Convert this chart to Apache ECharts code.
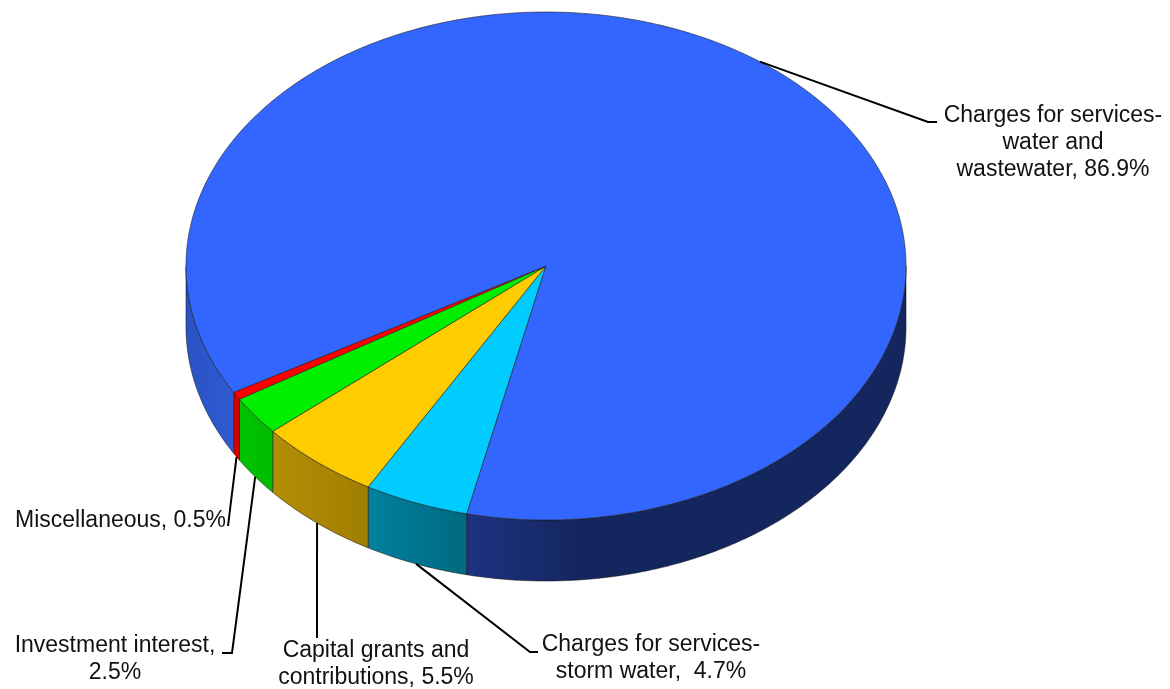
<!DOCTYPE html>
<html>
<head>
<meta charset="utf-8">
<style>html,body{margin:0;padding:0;background:#fff}#c{width:1170px;height:689px}</style>
<script src="https://cdn.jsdelivr.net/npm/echarts@6/dist/echarts.min.js"></script>
</head>
<body>
<div id="c"></div>
<script>
// Data, in drawing order (going clockwise on screen from the lower front edge)
var categories = ['Charges for services-storm water', 'Capital grants and contributions', 'Investment interest', 'Miscellaneous', 'Charges for services-water and wastewater'];
var shares = [4.7, 5.5, 2.5, 0.5, 86.9];
var labelLines = [
  ['Charges for services-', 'storm water,  4.7%'],
  ['Capital grants and', 'contributions, 5.5%'],
  ['Investment interest,', '2.5%'],
  ['Miscellaneous, 0.5%'],
  ['Charges for services-', 'water and', 'wastewater, 86.9%']
];
var faceColors = ['#00ccff', '#ffcc00', '#00ee00', '#ff0000', '#3366ff'];

// Style and layout
var wallStops = [
  [['#00809f', '#006a80']],
  [['#b48e08', '#a07e00']],
  [['#00c400', '#00bc00']],
  [['#e00000', '#d00000']],
  [['#2a52c4', '#2f5bd2'], ['#1d3382', '#14265e']]
];
var pie = {cx: 546, cy: 266, rx: 360, ry: 254, depth: 61, start: 12.7};
var labelLayout = [
  {x: 651, y: [645, 672], align: 'center', path: [[530, 652], [538, 652]]},
  {x: 376, y: [651, 678], align: 'center', path: [[317, 638]]},
  {x: 115, y: [646, 673], align: 'center', path: [[232, 653], [222, 653]]},
  {x: 226, y: [521], align: 'right', path: [[228, 526]]},
  {x: 1053, y: [116, 143, 170], align: 'center', path: [[928, 122], [937, 122]]}
];

var total = shares.reduce(function (a, b) { return a + b; }, 0);
var startAngles = [];
shares.reduce(function (acc, v, i) { startAngles[i] = acc; return acc + v / total * 360; }, pie.start);

function pt(deg, dy) {
  var r = deg * Math.PI / 180;
  return [pie.cx - pie.rx * Math.sin(r), pie.cy + pie.ry * Math.cos(r) + (dy || 0)];
}
function arc(a, b, dy) {
  var n = Math.max(2, Math.ceil(Math.abs(b - a) * 2)), out = [];
  for (var k = 0; k <= n; k++) out.push(pt(a + (b - a) * k / n, dy));
  return out;
}
function angleRange(api) {
  var i = api.value(0), a = startAngles[i];
  return [a, a + api.value(1) / total * 360];
}

function renderWall(params, api) {
  var i = api.value(0), rg = angleRange(api), a = rg[0], b = rg[1], kids = [];
  [[-90, 90], [270, 450]].forEach(function (win) {
    var lo = Math.max(a, win[0]), hi = Math.min(b, win[1]);
    if (hi <= lo) return;
    var stops = wallStops[i][win[0] === 270 && wallStops[i][1] ? 1 : 0];
    var poly = arc(lo, hi, 0).concat(arc(hi, lo, pie.depth));
    kids.push({
      type: 'polygon', shape: {points: poly},
      style: {
        fill: {type: 'linear', x: 0, y: 0, x2: 1, y2: 0, colorStops: [
          {offset: 0, color: stops[0]}, {offset: win[0] === 270 ? 0.25 : 1, color: stops[1]}, {offset: 1, color: stops[1]}
        ]},
        stroke: 'rgba(20,20,20,0.6)', lineWidth: 0.9
      }
    });
  });
  return {type: 'group', children: kids};
}

function renderFace(params, api) {
  var i = api.value(0), rg = angleRange(api);
  var poly = [[pie.cx, pie.cy]].concat(arc(rg[0], rg[1], 0));
  return {
    type: 'polygon', shape: {points: poly},
    style: {fill: faceColors[i], stroke: 'rgba(30,30,30,0.65)', lineWidth: 0.9}
  };
}

function renderLabel(params, api) {
  var i = api.value(0), rg = angleRange(api), mid = (rg[0] + rg[1]) / 2;
  var front = Math.cos(mid * Math.PI / 180) > 0;
  var lay = labelLayout[i];
  var kids = [{
    type: 'polyline',
    shape: {points: [pt(mid, front ? pie.depth : 0)].concat(lay.path)},
    style: {fill: null, stroke: '#000', lineWidth: 2}
  }];
  labelLines[i].forEach(function (line, k) {
    kids.push({
      type: 'text',
      style: {
        text: line, x: lay.x, y: lay.y[k], align: lay.align, verticalAlign: 'middle',
        font: '23px "Liberation Sans", Arial, sans-serif', fill: '#111'
      }
    });
  });
  return {type: 'group', children: kids};
}

var rows = shares.map(function (v, i) { return {name: categories[i], value: [i, v]}; });
var chart = echarts.init(document.getElementById('c'), null, {renderer: 'canvas'});
chart.setOption({
  animation: false,
  backgroundColor: '#fff',
  tooltip: {show: false},
  series: [
    {type: 'custom', coordinateSystem: 'none', renderItem: renderWall, data: rows, z: 1, silent: true},
    {type: 'custom', coordinateSystem: 'none', renderItem: renderFace, data: rows, z: 2, silent: true},
    {type: 'custom', coordinateSystem: 'none', renderItem: renderLabel, data: rows, z: 3, silent: true}
  ]
});
</script>
</body>
</html>
